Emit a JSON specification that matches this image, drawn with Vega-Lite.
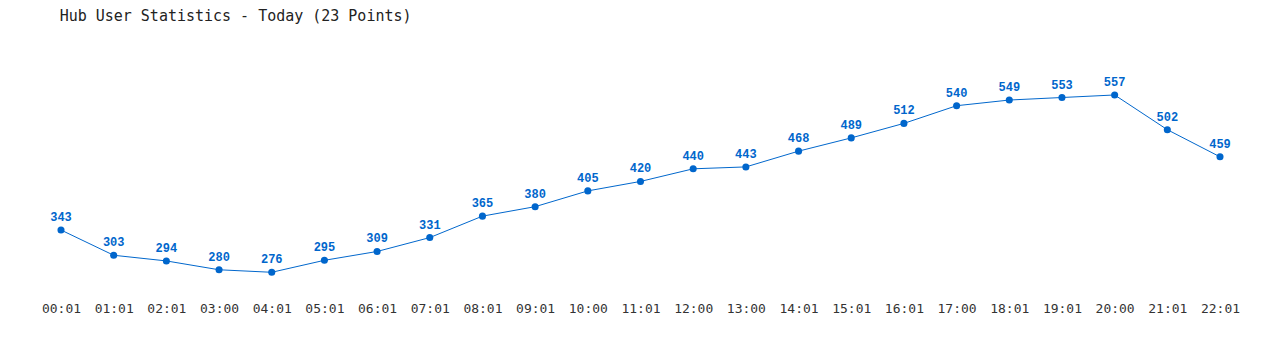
{
  "$schema": "https://vega.github.io/schema/vega-lite/v6.json",
  "autosize": {"type": "none"},
  "padding": {"left": 34.66, "top": 36.3, "right": 33.6, "bottom": 61.3},
  "width": 1211.7,
  "height": 252.4,
  "background": "white",
  "title": {
    "text": "Hub User Statistics - Today (23 Points)",
    "anchor": "start",
    "font": "DejaVu Sans Mono",
    "fontSize": 15,
    "fontWeight": "normal",
    "color": "#222222",
    "offset": 12,
    "dx": 25
  },
  "data": {
    "values": [
      {"time": "00:01", "users": 343},
      {"time": "01:01", "users": 303},
      {"time": "02:01", "users": 294},
      {"time": "03:00", "users": 280},
      {"time": "04:01", "users": 276},
      {"time": "05:01", "users": 295},
      {"time": "06:01", "users": 309},
      {"time": "07:01", "users": 331},
      {"time": "08:01", "users": 365},
      {"time": "09:01", "users": 380},
      {"time": "10:00", "users": 405},
      {"time": "11:01", "users": 420},
      {"time": "12:00", "users": 440},
      {"time": "13:00", "users": 443},
      {"time": "14:01", "users": 468},
      {"time": "15:01", "users": 489},
      {"time": "16:01", "users": 512},
      {"time": "17:00", "users": 540},
      {"time": "18:01", "users": 549},
      {"time": "19:01", "users": 553},
      {"time": "20:00", "users": 557},
      {"time": "21:01", "users": 502},
      {"time": "22:01", "users": 459}
    ]
  },
  "encoding": {
    "x": {
      "field": "time",
      "type": "ordinal",
      "sort": null,
      "scale": {"type": "point", "padding": 0.5},
      "axis": {
        "title": null,
        "domain": false,
        "ticks": false,
        "grid": false,
        "labelAngle": 0,
        "labelFont": "DejaVu Sans Mono",
        "labelFontSize": 13,
        "labelColor": "#333333",
        "labelPadding": 14,
        "labelDx": 4
      }
    },
    "y": {
      "field": "users",
      "type": "quantitative",
      "scale": {"domain": [250, 650], "nice": false, "zero": false},
      "axis": null
    }
  },
  "layer": [
    {"mark": {"type": "line", "color": "#0066cc", "strokeWidth": 1}},
    {"mark": {"type": "point", "filled": true, "color": "#0066cc", "size": 50, "opacity": 1}},
    {
      "mark": {
        "type": "text",
        "color": "#0066cc",
        "font": "Liberation Mono",
        "fontWeight": "bold",
        "fontSize": 12,
        "dy": -13
      },
      "encoding": {"text": {"field": "users", "type": "quantitative"}}
    }
  ],
  "config": {"view": {"stroke": null}}
}
